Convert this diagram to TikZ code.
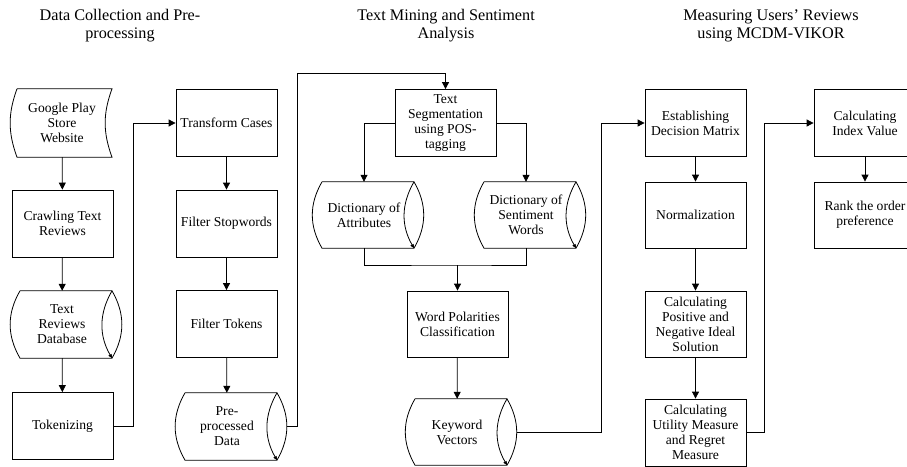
\documentclass[tikz,border=0pt]{standalone}
\usepackage{fontspec}
\setmainfont{Liberation Serif}
\usetikzlibrary{arrows.meta}
\newcommand\cylout[3]{%
  \draw[line] ([xshift=#2]#1.north) -- ([xshift=#3]#1.north) to[bend left=30] ([xshift=#3]#1.south) -- ([xshift=#2]#1.south) to[bend left=30] ([xshift=#2]#1.north);
  \draw[line,-{Triangle[length=4pt,width=3.5pt]}] ([xshift=#3]#1.north) to[bend right=30] ([xshift=#3]#1.south);
}
\newcommand\storedout[3]{%
  \draw[line] ([xshift=#2]#1.north) -- ([xshift=#3]#1.north) to[bend right=20] ([xshift=#3]#1.south) -- ([xshift=#2]#1.south) to[bend left=20] ([xshift=#2]#1.north);
}
\begin{document}
\begin{tikzpicture}[x=1pt,y=-1pt,
  every node/.style={inner sep=0pt, font=\fontsize{13.6}{15}\selectfont, align=center},
  line/.style={line width=0.8pt, black},
  proc/.style={draw, line width=0.8pt, minimum width=101pt, minimum height=67pt},
  cyl/.style={minimum height=#1},
  ttl/.style={font=\fontsize{16.2}{18}\selectfont},
  arr/.style={line, -{Triangle[length=7pt,width=7pt]}}
]
\useasboundingbox (0,0) rectangle (907,466);
\clip (0,0) rectangle (907,466);
% titles
\node[ttl] (t1) at (120,26) {Data Collection and Pre-\\processing};
\node[ttl] (t2) at (446,26) {Text Mining and Sentiment\\Analysis};
\node[ttl] (t3) at (771,26) {Measuring Users’ Reviews\\using MCDM-VIKOR};
% column 1
\node[cyl=68pt] (gp) at (62,123) {Google Play\\Store\\Website};
\storedout{gp}{-45pt}{50pt}
\node[proc] (cr) at (62.5,223.5) {Crawling Text\\Reviews};
\node[cyl=67pt] (db) at (62,324.5) {Text\\Reviews\\Database};
\cylout{db}{-42pt}{50pt}
\node[proc] (tok) at (62.5,426) {Tokenizing};
% column 2
\node[proc] (tc) at (226.5,123) {Transform Cases};
\node[proc] (fs) at (226.5,223.5) {Filter Stopwords};
\node[proc] (ft) at (226.5,324) {Filter Tokens};
\node[cyl=67pt] (pp) at (227,426.5) {Pre-\\processed\\Data};
\cylout{pp}{-42pt}{50pt}
% column 3
\node[proc] (ts) at (445.5,123) {Text\\Segmentation\\using POS-\\tagging};
\node[cyl=66pt] (da) at (364,215) {Dictionary of\\Attributes};
\cylout{da}{-42pt}{50pt}
\node[cyl=66pt] (ds) at (526,215) {Dictionary of\\Sentiment\\Words};
\cylout{ds}{-42pt}{50pt}
\node[proc, minimum height=66pt] (wp) at (457.5,324) {Word Polarities\\Classification};
\node[cyl=66pt] (kv) at (457,432) {Keyword\\Vectors};
\cylout{kv}{-42pt}{50pt}
% column 4
\node[proc] (est) at (695.5,123) {Establishing\\Decision Matrix};
\node[proc, minimum height=66pt] (nor) at (695.5,215) {Normalization};
\node[proc, minimum height=66pt] (pos) at (695.5,324) {Calculating\\Positive and\\Negative Ideal\\Solution};
\node[proc] (ut) at (695.5,432.5) {Calculating\\Utility Measure\\and Regret\\Measure};
% column 5
\node[proc, minimum width=102pt] (idx) at (865,123) {Calculating\\Index Value};
\node[proc, minimum width=102pt, minimum height=66pt] (rk) at (865,215) {Rank the order\\preference};
% coordinates
\coordinate (ppo) at ([xshift=60pt]pp.center);
\coordinate (c1) at (297,73);
\coordinate (kvo) at ([xshift=60pt]kv.center);
\coordinate (c2) at (601,123);
\coordinate (j) at (457.5,265);
% connectors
\draw[arr] (gp) -- (cr);
\draw[arr] (cr) -- (db);
\draw[arr] (db) -- (tok);
\draw[arr] (tok.east) -- ++(20,0) |- (tc.west);
\draw[arr] (tc) -- (fs);
\draw[arr] (fs) -- (ft);
\draw[arr] (ft) -- (pp);
\draw[arr] (ppo) -| (c1) -| (ts.north);
\draw[arr] (ts.west) -| (da.north);
\draw[arr] (ts.east) -| (ds.north);
\draw[line] (da.south) |- (j) -| (ds.south);
\draw[arr] (j) -- (wp.north);
\draw[arr] (wp) -- (kv);
\draw[arr] (kvo) -| (c2) -- (est.west);
\draw[arr] (est) -- (nor);
\draw[arr] (nor) -- (pos);
\draw[arr] (pos) -- (ut);
\draw[arr] (ut.east) -- ++(18,0) |- (idx.west);
\draw[arr] (idx) -- (rk);
\end{tikzpicture}
\end{document}
